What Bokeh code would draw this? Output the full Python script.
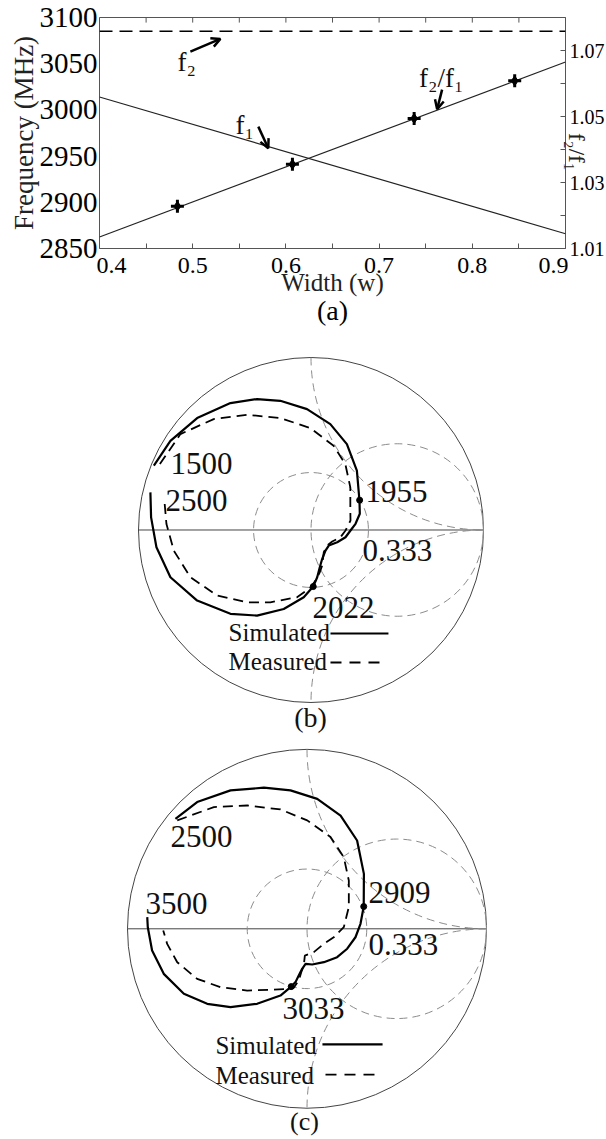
import math
from bokeh.plotting import figure
from bokeh.models import Range1d, LinearAxis, FixedTicker, Arrow, OpenHead, Title
from bokeh.layouts import column
from bokeh.core.properties import value
from bokeh.embed import file_html
from bokeh.resources import INLINE

SERIF = "Liberation Serif"

# ---------------- panel (a) data ----------------
width_line = [0.4, 0.9]
f1_line = [3014, 2866]
f2_line = [3085, 3085]
ratio_line = [1.0135, 1.0665]
width_pts = [0.4836, 0.607, 0.7376, 0.8455]
ratio_pts = [1.0228, 1.0355, 1.0494, 1.0608]
freq_ticks = [2850, 2900, 2950, 3000, 3050, 3100]
ratio_ticks = [1.01, 1.03, 1.05, 1.07]
ratio_minor = [1.02, 1.04, 1.06, 1.08]
width_ticks = [0.4, 0.5, 0.6, 0.7, 0.8, 0.9]
width_minor = [0.45, 0.55, 0.65, 0.75, 0.85]

# ---------------- panel (b) data (reflection coefficient, re / im) ----------------
b_sim_re = [-0.911, -0.815, -0.660, -0.467, -0.313, -0.178, -0.023, 0.112, 0.208, 0.266, 0.281,
            0.283, 0.258, 0.229, 0.200, 0.152, 0.103, 0.084, 0.065, 0.051, 0.036, 0.013, -0.042,
            -0.158, -0.313, -0.467, -0.660, -0.815, -0.896, -0.927, -0.931]
b_sim_im = [0.373, 0.517, 0.649, 0.736, 0.759, 0.749, 0.701, 0.614, 0.498, 0.344, 0.171,
            0.094, 0.036, -0.003, -0.042, -0.071, -0.090, -0.119, -0.167, -0.216, -0.274, -0.328, -0.390,
            -0.458, -0.496, -0.486, -0.409, -0.274, -0.100, 0.073, 0.218]
b_meas_re = [-0.876, -0.757, -0.564, -0.371, -0.178, -0.004, 0.131, 0.199, 0.228, 0.228, 0.229,
             0.200, 0.171, 0.123, 0.094, 0.074, 0.065, 0.051, 0.026, -0.003, -0.081, -0.236,
             -0.371, -0.544, -0.699, -0.795, -0.838, -0.849]
b_meas_im = [0.382, 0.556, 0.643, 0.668, 0.649, 0.591, 0.488, 0.382, 0.247, 0.112, 0.055,
             -0.003, -0.042, -0.067, -0.090, -0.129, -0.206, -0.245, -0.293, -0.335, -0.390, -0.419,
             -0.419, -0.380, -0.274, -0.120, 0.035, 0.160]
b_mark_re = [0.282, 0.013]
b_mark_im = [0.173, -0.328]

# ---------------- panel (c) data ----------------
c_sim_re = [-0.733, -0.612, -0.426, -0.240, -0.092, 0.057, 0.187, 0.279, 0.317, 0.316, 0.298,
            0.270, 0.224, 0.168, 0.094, 0.029, -0.008, -0.027, -0.046, -0.064, -0.088, -0.148,
            -0.278, -0.426, -0.556, -0.686, -0.798, -0.863, -0.887, -0.890]
c_sim_im = [0.613, 0.706, 0.771, 0.786, 0.771, 0.724, 0.631, 0.492, 0.306, 0.124, 0.028,
            -0.047, -0.111, -0.158, -0.186, -0.199, -0.195, -0.223, -0.260, -0.297, -0.322, -0.372,
            -0.418, -0.436, -0.418, -0.362, -0.251, -0.121, 0.009, 0.065]
c_meas_re = [-0.723, -0.519, -0.333, -0.148, 0.001, 0.131, 0.205, 0.233, 0.233, 0.205, 0.149,
             0.094, 0.038, -0.012, -0.018, -0.032, -0.046, -0.074, -0.092, -0.203, -0.333, -0.482,
             -0.612, -0.723, -0.779, -0.801]
c_meas_im = [0.604, 0.678, 0.687, 0.665, 0.604, 0.511, 0.399, 0.269, 0.121, 0.009, -0.047,
             -0.084, -0.130, -0.149, -0.204, -0.242, -0.288, -0.329, -0.334, -0.340, -0.344, -0.325,
             -0.279, -0.186, -0.084, -0.009]
c_mark_re = [0.316, -0.088]
c_mark_im = [0.124, -0.322]
vswr_circle = 0.333

W = 606
BL, BR = 99, 41
NB = "\u00a0"

# =============================== panel (a) ===============================
pa = figure(width=W, height=330, x_range=Range1d(0.4, 0.9), y_range=Range1d(2850, 3100),
            toolbar_location=None, output_backend="svg",
            x_axis_location=None, y_axis_location=None,
            min_border_left=BL, min_border_right=BR, min_border_top=17, min_border_bottom=82)
pa.extra_y_ranges = {"ratio": Range1d(1.01, 1.08)}
pa.xgrid.visible = False
pa.ygrid.visible = False
pa.outline_line_color = "#555555"
pa.outline_line_width = 1

def style_axis(ax, size, standoff, tick_in):
    ax.axis_line_color = None
    ax.major_tick_in = tick_in
    ax.major_tick_out = 0
    ax.minor_tick_in = tick_in
    ax.minor_tick_out = 0
    ax.major_tick_line_color = "#555555"
    ax.minor_tick_line_color = "#555555"
    ax.major_label_text_font = SERIF
    ax.major_label_text_font_size = size
    ax.major_label_text_color = "black"
    ax.major_label_standoff = standoff
    ax.axis_label_text_font = SERIF
    ax.axis_label_text_font_style = "normal"
    ax.axis_label_text_color = "#222222"

left = LinearAxis(ticker=FixedTicker(ticks=freq_ticks))
style_axis(left, "29px", 2, 0)
left.axis_label = "Frequency (MHz)"
left.axis_label_text_font_size = "27px"
left.axis_label_standoff = -2
pa.add_layout(left, "left")

right = LinearAxis(y_range_name="ratio", ticker=FixedTicker(ticks=ratio_ticks, minor_ticks=ratio_minor))
style_axis(right, "20px", 4, 5)
right.axis_label = "f\u2082/f\u2081" + NB * 4
right.axis_label_text_font_size = "23px"
right.axis_label_standoff = -31
try:
    right.axis_label_orientation = -math.pi / 2
except Exception:
    pass
pa.add_layout(right, "right")

bottom = LinearAxis(ticker=FixedTicker(ticks=width_ticks, minor_ticks=width_minor))
style_axis(bottom, "24px", 3, 5)
bottom.major_label_overrides = {0.4: NB * 4 + "0.4", 0.9: "0.9" + NB * 4}
bottom.axis_label = "Width (w)"
bottom.axis_label_text_font_size = "25px"
bottom.axis_label_standoff = -12
pa.add_layout(bottom, "below")
pa.add_layout(Title(text="(a)", align="center", text_font=SERIF, text_font_size="28px",
                    text_font_style="normal", text_color="black", standoff=-12), "below")

# inward ticks along the top edge, at the same positions as the bottom ticks
top_ticks = width_ticks + width_minor
pa.segment(x0=top_ticks, y0=[3100] * len(top_ticks), x1=top_ticks, y1=[3094.5] * len(top_ticks),
           line_color="#555555", line_width=1)

pa.line(width_line, f2_line, line_color="black", line_width=1.5, line_dash="13 7")
pa.line(width_line, f1_line, line_color="#222222", line_width=1.2)
pa.line(width_line, ratio_line, y_range_name="ratio", line_color="#222222", line_width=1.2)
pa.scatter(width_pts, ratio_pts, y_range_name="ratio", marker="cross", size=13,
           line_width=3, line_color="black")
pa.scatter(width_pts, ratio_pts, y_range_name="ratio", marker="diamond", size=10,
           fill_color="black", line_color="black")

pa.text(x=[0.4836], y=[3051.5], text=["f\u2082"], text_font=value(SERIF), text_font_size="27px",
        text_align="left", text_baseline="middle", text_color="#111111")
pa.text(x=[0.5458], y=[2984], text=["f\u2081"], text_font=value(SERIF), text_font_size="27px",
        text_align="left", text_baseline="middle", text_color="#111111")
pa.text(x=[0.7666], y=[3034.6], text=["f\u2082/f\u2081"], text_font=value(SERIF), text_font_size="27px",
        text_align="center", text_baseline="middle", text_color="#111111")

for xs, ys, xe, ye in [(0.4975, 3063.1, 0.5297, 3076.8),
                       (0.5704, 2981.9, 0.5811, 2958.6),
                       (0.7676, 3021.9, 0.7623, 3000.8)]:
    pa.add_layout(Arrow(end=OpenHead(size=9, line_width=2.5, line_color="black"),
                        x_start=xs, y_start=ys, x_end=xe, y_end=ye,
                        line_width=2.5, line_color="black"))


# =============================== Smith charts ===============================
GRID = "#8c8c8c"

def smith(height, xr, yr):
    p = figure(width=W, height=height, x_range=Range1d(*xr), y_range=Range1d(*yr),
               toolbar_location=None, output_backend="svg",
               x_axis_location=None, y_axis_location=None,
               min_border_left=BL, min_border_right=BR, min_border_top=0, min_border_bottom=0)
    p.outline_line_color = None
    p.xgrid.visible = False
    p.ygrid.visible = False
    # outer circle and real axis
    p.circle(x=[0], y=[0], radius=1, fill_color=None, line_color="#444444", line_width=1)
    p.segment(x0=[-1], y0=[0], x1=[1], y1=[0], line_color="#444444", line_width=1)
    # r = 1 circle, x = +/-1 arcs, |G| circle
    p.circle(x=[0.5], y=[0], radius=0.5, fill_color=None, line_color=GRID, line_width=1, line_dash="8 5")
    p.arc(x=[1], y=[1], radius=1, start_angle=math.pi, end_angle=1.5 * math.pi,
          line_color=GRID, line_width=1, line_dash="8 5")
    p.arc(x=[1], y=[-1], radius=1, start_angle=0.5 * math.pi, end_angle=math.pi,
          line_color=GRID, line_width=1, line_dash="8 5")
    p.circle(x=[0], y=[0], radius=vswr_circle, fill_color=None, line_color=GRID, line_width=1,
             line_dash="8 5")
    return p

def txt(p, x, y, s, size, align="left"):
    p.text(x=[x], y=[y], text=[s], text_font=value(SERIF), text_font_size=size,
           text_align=align, text_baseline="middle", text_color="#111111")

# ---- (b) ----
pb = smith(405, (-1.2261, 1.4754), (-1.1913, 1.1565))
pb.line(b_sim_re, b_sim_im, line_color="black", line_width=2.2)
pb.line(b_meas_re, b_meas_im, line_color="black", line_width=1.8, line_dash="10 6")
pb.scatter(b_mark_re, b_mark_im, size=6, color="black")
txt(pb, -0.814, 0.386, "1500", "31px")
txt(pb, -0.843, 0.171, "2500", "31px")
txt(pb, 0.316, 0.223, "1955", "31px")
txt(pb, 0.299, -0.119, "0.333", "31px")
txt(pb, 0.009, -0.449, "2022", "31px")
txt(pb, -0.478, -0.594, "Simulated", "25px")
txt(pb, -0.478, -0.762, "Measured", "25px")
pb.segment(x0=[0.113], y0=[-0.600], x1=[0.449], y1=[-0.600], line_color="black", line_width=2.2)
pb.segment(x0=[0.113], y0=[-0.768], x1=[0.420], y1=[-0.768], line_color="black", line_width=1.8,
           line_dash="11 8")
txt(pb, -0.003, -1.087, "(b)", "28px", "center")

# ---- (c) ----
pc = smith(403, (-1.156, 1.4401), (-1.1682, 1.0769))
pc.line(c_sim_re, c_sim_im, line_color="black", line_width=2.2)
pc.line(c_meas_re, c_meas_im, line_color="black", line_width=1.8, line_dash="10 6")
pc.scatter(c_mark_re, c_mark_im, size=6, color="black")
txt(pc, -0.760, 0.514, "2500", "31px")
txt(pc, -0.900, 0.141, "3500", "31px")
txt(pc, 0.343, 0.202, "2909", "31px")
txt(pc, 0.343, -0.087, "0.333", "31px")
txt(pc, -0.136, -0.444, "3033", "31px")
txt(pc, -0.510, -0.650, "Simulated", "25px")
txt(pc, -0.510, -0.817, "Measured", "25px")
pc.segment(x0=[0.086], y0=[-0.644], x1=[0.421], y1=[-0.644], line_color="black", line_width=2.2)
pc.segment(x0=[0.103], y0=[-0.812], x1=[0.393], y1=[-0.812], line_color="black", line_width=1.8,
           line_dash="11 8")
txt(pc, -0.014, -1.0735, "(c)", "26px", "center")

layout = column(pa, pb, pc)
open("out.html", "w").write(file_html(layout, INLINE))
